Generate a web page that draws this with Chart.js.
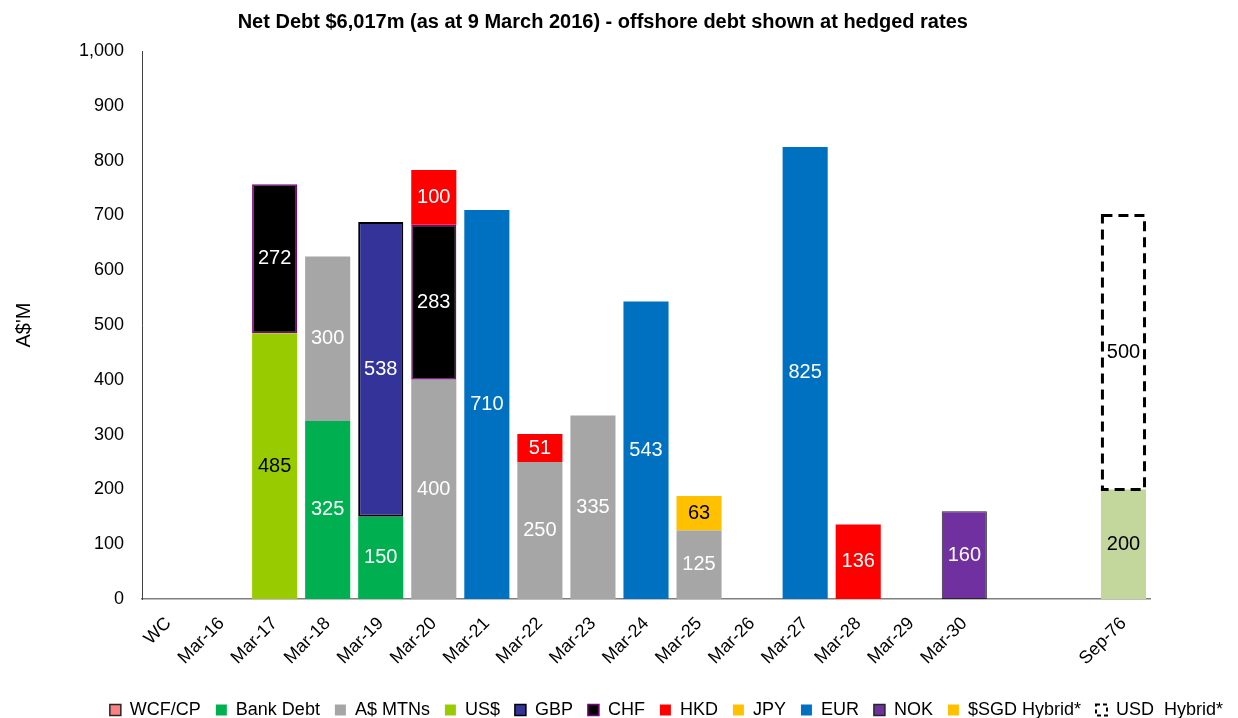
<!DOCTYPE html>
<html>
<head>
<meta charset="utf-8">
<title>Net Debt maturity profile</title>
<script src="https://cdn.jsdelivr.net/npm/chart.js@4.4.1/dist/chart.umd.min.js"></script>
<style>
  html, body { margin: 0; padding: 0; background: #fff; overflow: hidden; }
  #wrap { width: 1238px; height: 718px; overflow: hidden; }
  #box { position: relative; width: 1238px; height: 729px; }
</style>
</head>
<body>
<div id="wrap"><div id="box"><canvas id="debtChart"></canvas></div></div>
<script>
// Maturity buckets (two empty slots before Sep-76)
const categories = ["WC", "Mar-16", "Mar-17", "Mar-18", "Mar-19", "Mar-20", "Mar-21", "Mar-22", "Mar-23",
  "Mar-24", "Mar-25", "Mar-26", "Mar-27", "Mar-28", "Mar-29", "Mar-30", "", "", "Sep-76"];

// A$M per bucket       WC    M16   M17   M18   M19   M20   M21   M22   M23   M24   M25   M26   M27   M28   M29   M30   -     -     S76
const wcfCp       = [null, null, null, null, null, null, null, null, null, null, null, null, null, null, null, null, null, null, null];
const bankDebt    = [null, null, null, 325,  150,  null, null, null, null, null, null, null, null, null, null, null, null, null, null];
const audMtns     = [null, null, null, 300,  null, 400,  null, 250,  335,  null, 125,  null, null, null, null, null, null, null, null];
const usDollar    = [null, null, 485,  null, null, null, null, null, null, null, null, null, null, null, null, null, null, null, null];
const gbp         = [null, null, null, null, 538,  null, null, null, null, null, null, null, null, null, null, null, null, null, null];
const chf         = [null, null, 272,  null, null, 283,  null, null, null, null, null, null, null, null, null, null, null, null, null];
const hkd         = [null, null, null, null, null, 100,  null, 51,   null, null, null, null, null, 136,  null, null, null, null, null];
const jpy         = [null, null, null, null, null, null, null, null, null, null, null, null, null, null, null, null, null, null, null];
const eur         = [null, null, null, null, null, null, 710,  null, null, 543,  null, null, 825,  null, null, null, null, null, null];
const nok         = [null, null, null, null, null, null, null, null, null, null, null, null, null, null, null, 160,  null, null, null];
const sgdHybrid   = [null, null, null, null, null, null, null, null, null, null, 63,   null, null, null, null, null, null, null, null];
const audHybrid   = [null, null, null, null, null, null, null, null, null, null, null, null, null, null, null, null, null, null, 200];
const usdHybrid   = [null, null, null, null, null, null, null, null, null, null, null, null, null, null, null, null, null, null, 500];

Chart.defaults.font.family = "'Liberation Sans', Arial, sans-serif";
Chart.defaults.color = "#000";

// white/black numbers in the middle of each segment, dashed outline for the USD hybrid
const barExtras = {
  id: "barExtras",
  afterDatasetsDraw(chart) {
    const ctx = chart.ctx;
    ctx.save();
    chart.data.datasets.forEach((ds, i) => {
      const meta = chart.getDatasetMeta(i);
      if (!ds.dashedOutline || meta.hidden) return;
      meta.data.forEach((bar, j) => {
        if (ds.data[j] == null) return;
        const p = bar.getProps(["x", "y", "base", "width"], true);
        ctx.strokeStyle = "#000";
        ctx.lineWidth = 3;
        ctx.setLineDash([10, 6]);
        ctx.strokeRect(p.x - p.width / 2 + 1.5, p.y, p.width - 3, p.base - p.y);
      });
    });
    ctx.setLineDash([]);
    ctx.font = "20px 'Liberation Sans', Arial, sans-serif";
    ctx.textAlign = "center";
    ctx.textBaseline = "middle";
    chart.data.datasets.forEach((ds, i) => {
      const meta = chart.getDatasetMeta(i);
      if (meta.hidden) return;
      meta.data.forEach((bar, j) => {
        const v = ds.data[j];
        if (v == null) return;
        const p = bar.getProps(["x", "y", "base"], true);
        ctx.fillStyle = ds.labelColor || "#fff";
        ctx.fillText(String(v), p.x, (p.y + p.base) / 2);
      });
    });
    ctx.restore();
  }
};

function series(label, data, color, extra) {
  return Object.assign({
    label: label,
    data: data,
    backgroundColor: color,
    borderColor: color,
    borderWidth: 0,
    labelColor: "#fff"
  }, extra || {});
}

const datasets = [
  series("WCF/CP", wcfCp, "#FF8080", { legendBox: { strokeStyle: "#262626", lineWidth: 1.5 } }),
  series("Bank Debt", bankDebt, "#00B050"),
  series("A$ MTNs", audMtns, "#A6A6A6"),
  series("US$", usDollar, "#99CC00", { labelColor: "#000" }),
  series("GBP", gbp, "#333399", { borderColor: "#000", borderWidth: 2, borderSkipped: false,
    legendBox: { strokeStyle: "#000", lineWidth: 1.5 } }),
  series("CHF", chf, "#000000", { borderColor: "#800080", borderWidth: 1.5, borderSkipped: false,
    legendBox: { strokeStyle: "#800080", lineWidth: 1.5 } }),
  series("HKD", hkd, "#FF0000"),
  series("JPY", jpy, "#FFC000"),
  series("EUR", eur, "#0070C0"),
  series("NOK", nok, "#7030A0", { borderColor: "#262626", borderWidth: 1, borderSkipped: false,
    legendBox: { strokeStyle: "#262626", lineWidth: 1.5 } }),
  series("$SGD Hybrid*", sgdHybrid, "#FFC000", { labelColor: "#000" }),
  series("A$ Hybrid", audHybrid, "#C3D69B", { labelColor: "#000", hideInLegend: true }),
  series("USD  Hybrid*", usdHybrid, "rgba(255,255,255,0)", { labelColor: "#000", dashedOutline: true,
    legendBox: { fillStyle: "#fff", strokeStyle: "#000", lineWidth: 2, lineDash: [4, 3] } })
];

// trailing no-break spaces pull the centred title a little to the left, as in the original slide
const titleText = "Net Debt $6,017m (as at 9 March 2016) - offshore debt shown at hedged rates" + "\u00a0".repeat(8);

new Chart(document.getElementById("debtChart"), {
  type: "bar",
  data: { labels: categories, datasets: datasets },
  options: {
    responsive: true,
    maintainAspectRatio: false,
    animation: false,
    datasets: { bar: { barPercentage: 0.85, categoryPercentage: 1 } },
    layout: { padding: { left: 12, right: 0, top: 0, bottom: 0 } },
    plugins: {
      tooltip: { enabled: false },
      title: {
        display: true,
        text: titleText,
        color: "#000",
        font: { size: 20, weight: "bold" },
        padding: { top: 10, bottom: 17 }
      },
      legend: {
        position: "bottom",
        align: "end",
        labels: {
          color: "#000",
          font: { size: 18 },
          boxWidth: 11,
          boxHeight: 11,
          padding: 15,
          filter: (item, data) => !data.datasets[item.datasetIndex].hideInLegend,
          generateLabels(chart) {
            const items = Chart.defaults.plugins.legend.labels.generateLabels(chart);
            items.forEach((it) => {
              const ds = chart.data.datasets[it.datasetIndex];
              if (ds.legendBox) Object.assign(it, ds.legendBox);
            });
            return items;
          }
        }
      }
    },
    scales: {
      x: {
        stacked: true,
        grid: { display: true, color: "rgba(0,0,0,0)", drawOnChartArea: false, drawTicks: false },
        border: { color: "#7f7f7f", width: 1.5 },
        ticks: { color: "#000", font: { size: 18 }, maxRotation: 45, minRotation: 45, autoSkip: false, padding: 14 },
        afterFit(scale) { scale.height = 87; }
      },
      y: {
        stacked: true,
        min: 0,
        max: 1000,
        grid: { display: false, drawTicks: false },
        border: { color: "#404040", width: 1 },
        ticks: { stepSize: 100, color: "#000", font: { size: 18 }, padding: 18 },
        title: { display: true, text: "A$'M", color: "#000", font: { size: 20 }, padding: 0 },
        afterFit(scale) { scale.width = 130; }
      },
      // empty right-hand axis, only keeps the plot clear of the legend's right end
      yRight: {
        position: "right",
        grid: { display: false },
        border: { display: false },
        ticks: { display: false },
        afterFit(scale) { scale.width = 88; }
      }
    }
  },
  plugins: [barExtras]
});
</script>
</body>
</html>
